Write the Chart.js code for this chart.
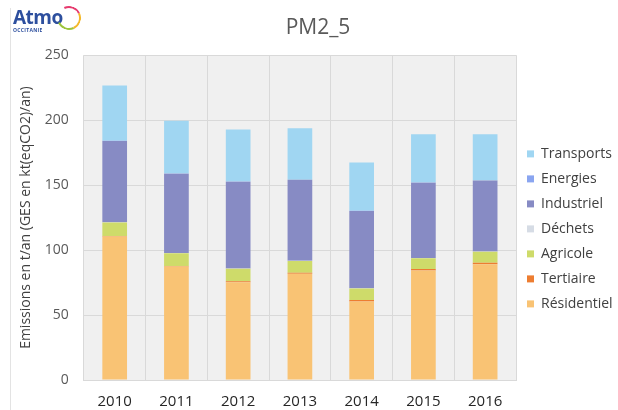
<!DOCTYPE html>
<html>
<head>
<meta charset="utf-8">
<script src="https://cdn.jsdelivr.net/npm/chart.js@4"></script>
<style>
  html, body { margin: 0; padding: 0; background: #fff; }
  #wrap { position: relative; width: 618px; height: 410px; }
  #edge { position: absolute; left: 10px; top: 8px; bottom: 0; border-left: 1px solid #e3e3e3; }
  #logo { position: absolute; left: 13px; top: 8px; font-family: "Open Sans", sans-serif; color: #2d4f9e; }
  #logo .a { font-size: 19px; font-weight: 700; line-height: 19px; letter-spacing: -0.5px; }
  #logo .o { font-size: 5px; font-weight: 700; line-height: 6px; letter-spacing: 0.3px; }
  #logo .ring { position: absolute; left: 44px; top: -2px; width: 20px; height: 20px; border-radius: 50%;
    border: 2px solid transparent; border-top-color: #e63a6e; border-right-color: #f4b82a; border-bottom-color: #9cc43c; transform: rotate(20deg); }
</style>
</head>
<body>
<div id="wrap">
  <div id="edge"></div>
  <div id="logo"><div class="ring"></div><div class="a">Atmo</div><div class="o">OCCITANIE</div></div>
  <canvas id="pmChart" width="618" height="410"></canvas>
</div>
<script>
const years = ['2010', '2011', '2012', '2013', '2014', '2015', '2016'];

// valeurs (t/an)
const residentiel = [110.5, 87.3, 75.3, 81.7, 60.4, 84.3, 89.0];
const tertiaire   = [0.4, 0.4, 0.8, 0.9, 1.2, 1.2, 1.2];
const agricole    = [10.3, 9.9, 9.6, 9.0, 8.9, 8.3, 8.5];
const dechets     = [0.2, 0.2, 0.2, 0.2, 0.2, 0.2, 0.2];
const industriel  = [62.6, 61.0, 66.7, 62.3, 59.4, 57.9, 54.6];
const energies    = [0.1, 0.1, 0.1, 0.1, 0.1, 0.1, 0.1];
const transports  = [42.6, 40.7, 40.2, 39.5, 37.2, 37.2, 35.6];

const yTicks = [0, 50, 100, 150, 200, 250];

const FONT = '"Open Sans", sans-serif';

// fond gris de la zone de tracé
const plotBg = {
    id: 'plotBg',
    beforeDraw(chart) {
        const {ctx, chartArea: a} = chart;
        ctx.save();
        ctx.fillStyle = '#f0f0f0';
        ctx.fillRect(a.left, a.top, a.right - a.left, a.bottom - a.top);
        ctx.restore();
    }
};

const ctx = document.getElementById('pmChart').getContext('2d');
const pmChart = new Chart(ctx, {
    type: 'bar',
    data: {
        labels: years,
        datasets: [
            { label: 'Résidentiel', data: residentiel, backgroundColor: '#f9c374' },
            { label: 'Tertiaire',   data: tertiaire,   backgroundColor: '#ed7d31' },
            { label: 'Agricole',    data: agricole,    backgroundColor: '#cedb6a' },
            { label: 'Déchets',     data: dechets,     backgroundColor: '#d6dce5' },
            { label: 'Industriel',  data: industriel,  backgroundColor: '#878bc4' },
            { label: 'Energies',    data: energies,    backgroundColor: '#8aa5f0' },
            { label: 'Transports',  data: transports,  backgroundColor: '#a0d6f2' }
        ]
    },
    options: {
        responsive: false,
        animation: false,
        layout: { padding: { left: 18, right: 0, top: 0, bottom: -14 } },
        datasets: { bar: { barPercentage: 0.4, categoryPercentage: 1.0 } },
        scales: {
            x: {
                stacked: true,
                grid: { color: '#d9d9d9', drawTicks: false },
                border: { color: '#d9d9d9' },
                ticks: { color: '#262626', font: { family: FONT, size: 15 }, padding: 13 }
            },
            y: {
                stacked: true,
                min: 0,
                max: 250,
                afterBuildTicks(scale) { scale.ticks = yTicks.map(v => ({ value: v })); },
                grid: { color: '#d9d9d9', drawTicks: false },
                border: { display: false },
                ticks: { color: '#595959', font: { family: FONT, size: 14 }, padding: 15 },
                title: {
                    display: true,
                    text: 'Emissions en t/an (GES en kt(eqCO2)/an)',
                    color: '#404040',
                    font: { family: FONT, size: 14 },
                    padding: { top: 0, bottom: -5 }
                }
            }
        },
        plugins: {
            title: {
                display: true,
                text: 'PM2_5',
                color: '#595959',
                font: { family: FONT, size: 21, weight: 'normal' },
                padding: { top: 15, bottom: 15 }
            },
            legend: {
                position: 'right',
                reverse: true,
                maxWidth: 102,
                title: { display: true, text: ' ', font: { family: FONT, size: 14 }, padding: { top: 17, bottom: 0 } },
                labels: {
                    boxWidth: 7,
                    boxHeight: 7,
                    padding: 11,
                    color: '#404040',
                    font: { family: FONT, size: 14 }
                }
            },
            tooltip: { enabled: false }
        }
    },
    plugins: [plotBg]
});
</script>
</body>
</html>
